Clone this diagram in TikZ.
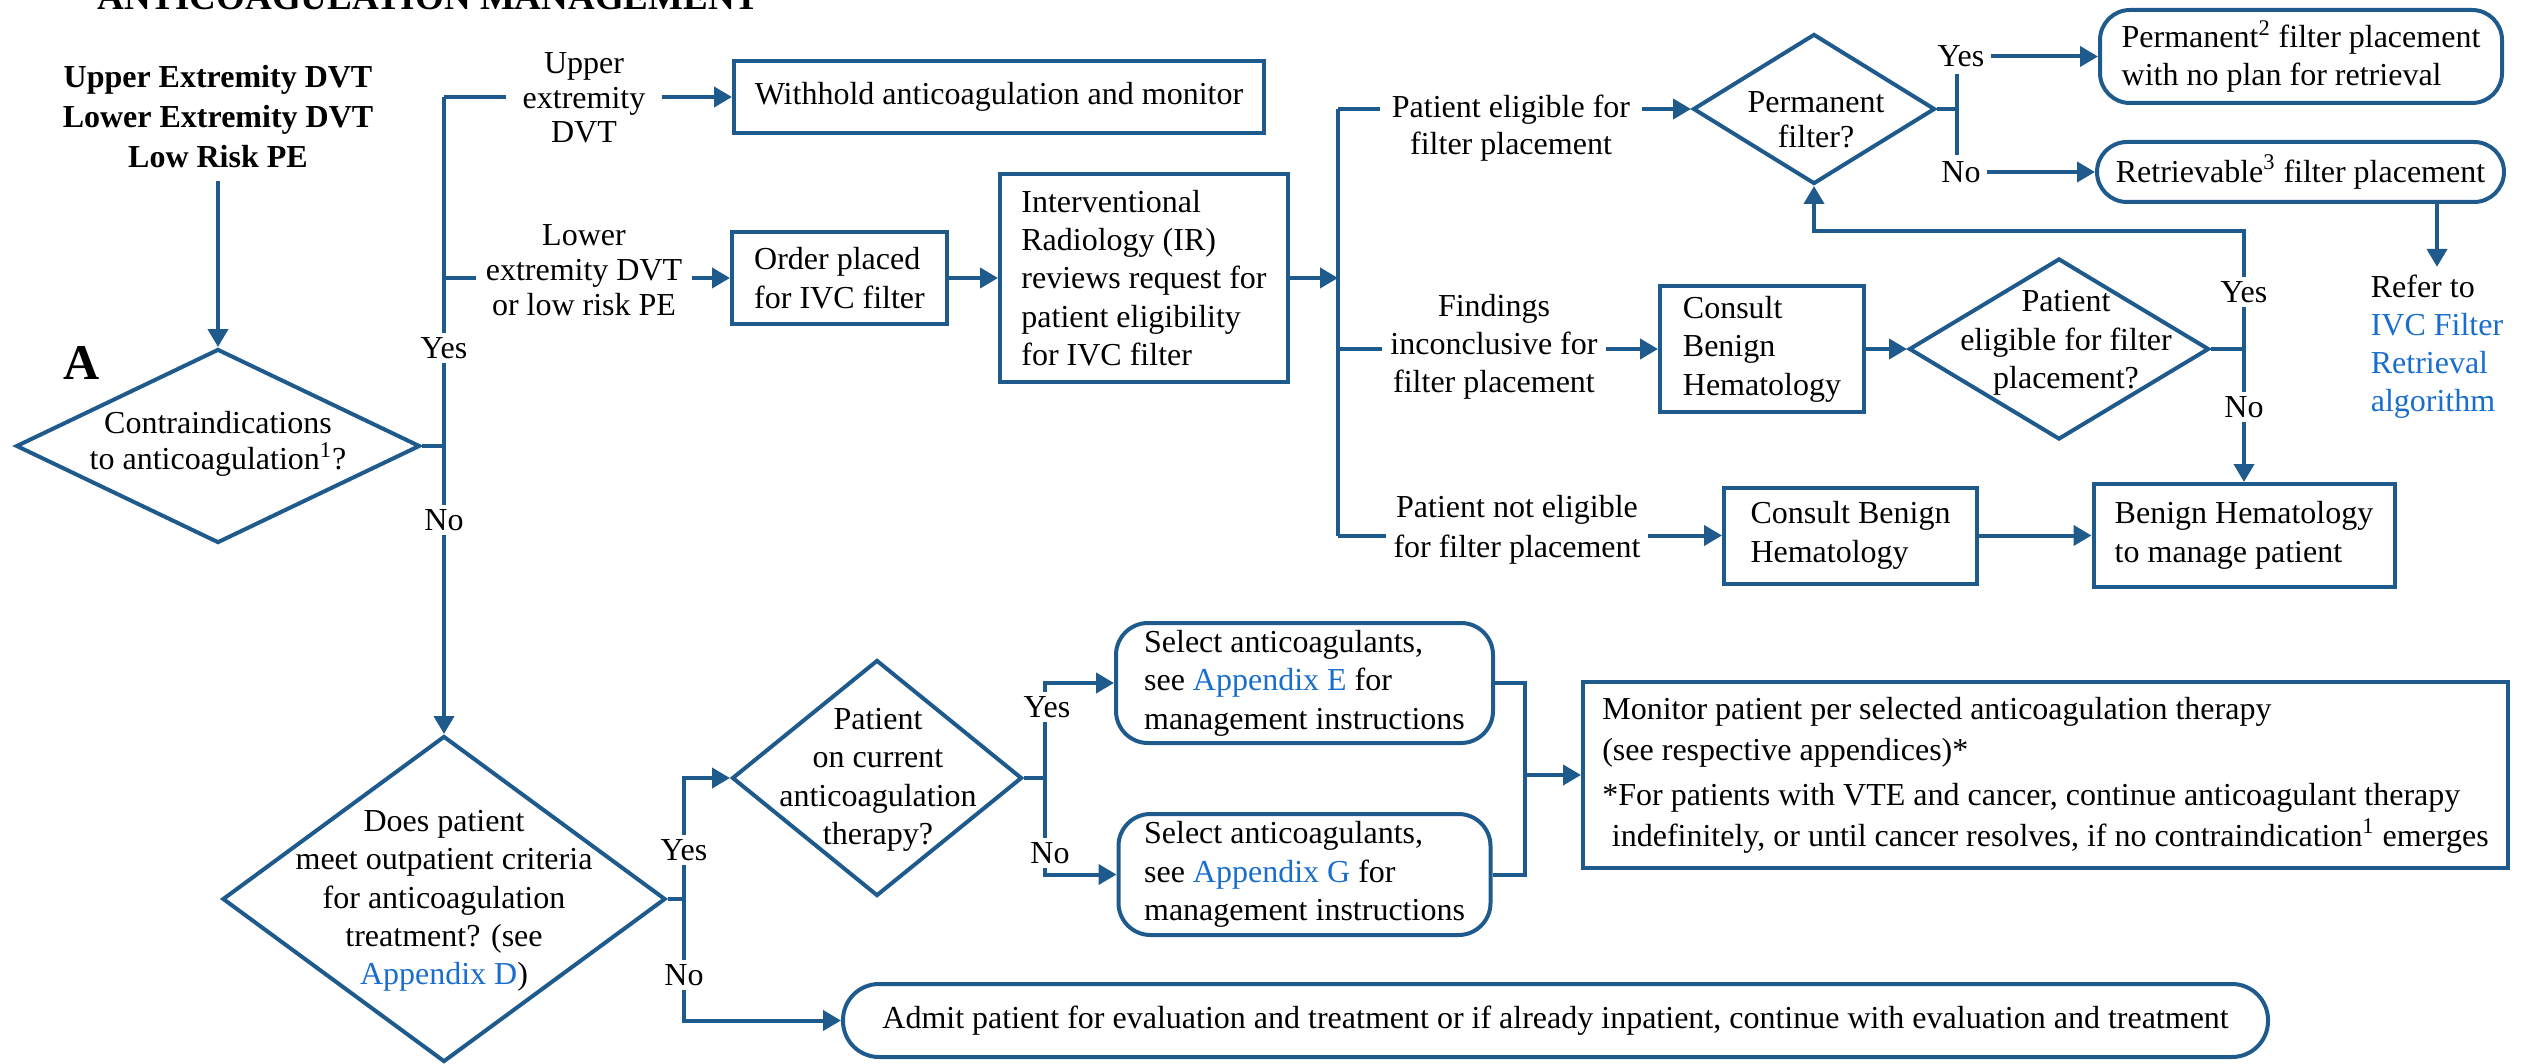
\documentclass[tikz,border=0pt]{standalone}
\usepackage{fontspec}
\setmainfont{Liberation Serif}
\usetikzlibrary{arrows.meta,shapes.geometric}
\definecolor{lb}{RGB}{31,90,140}
\definecolor{link}{RGB}{25,110,205}
\newcommand\myfs{\fontsize{16pt}{19.2pt}\selectfont}
\begin{document}
\begin{tikzpicture}[x=0.5pt,y=-0.5pt,
  line/.style={draw=lb,line width=2pt},
  arr/.style={line,-{Triangle[length=9pt,width=10pt]}},
  box/.style={draw=lb,line width=2pt,inner sep=0pt,align=left,font=\myfs},
  rbox/.style={box,rounded corners=15pt},
  dia/.style={diamond,draw=lb,line width=2pt,inner sep=0pt},
  txt/.style={font=\myfs,align=center,inner sep=0pt},
  lab/.style={font=\myfs,fill=white,inner sep=2pt},
]
\useasboundingbox (0,0) rectangle (2532,1064);
\clip (0,0) rectangle (2532,1064);

\node[anchor=base west,font=\fontsize{18.5pt}{22pt}\selectfont\bfseries,inner sep=0pt] (title) at (97,10) {ANTICOAGULATION MANAGEMENT};

\node[txt,inner sep=6pt,font=\fontsize{16pt}{20pt}\selectfont\bfseries] (start) at (218,117) {Upper Extremity DVT\\Lower Extremity DVT\\Low Risk PE};
\node[font=\fontsize{25pt}{30pt}\selectfont\bfseries,inner sep=0pt] (A) at (82,363) {A};

\node[dia,minimum width=202pt,minimum height=97pt] (d1) at (218,446) {};
\node[txt,font=\fontsize{16pt}{18pt}\selectfont] (d1t) at (218,444) {Contraindications\\to anticoagulation\textsuperscript{1}?};
\draw[arr] (start.south) -- (d1.north);

\node[dia,minimum width=221.5pt,minimum height=163pt] (d2) at (444,899) {};
\node[txt] (d2t) at (444,901) {Does patient\\meet outpatient criteria\\for anticoagulation\\treatment? (see\\\textcolor{link}{Appendix D})};

\coordinate (j1) at (444,446);
\coordinate (cu) at (444,97);
\coordinate (cl) at (444,278);
\draw[line] (d1.east) -- (j1);
\draw[arr] (cu) -- (d2.north);
\node[lab] (yes1) at (444,348) {Yes};
\node[lab] (no1) at (444,520) {No};

% upper branch
\node[txt,inner xsep=8pt,font=\fontsize{16pt}{17.3pt}\selectfont] (lup) at (584,98) {Upper\\extremity\\DVT};
\draw[line] (cu) -- (lup.west |- cu);
\node[box,minimum width=265pt,minimum height=36pt,align=center] (withhold) at (999,97) {Withhold anticoagulation and monitor};
\draw[arr] (lup.east |- cu) -- (withhold.west);

% lower branch
\node[txt,inner xsep=4.5pt,font=\fontsize{16pt}{17.5pt}\selectfont] (llow) at (584,270) {Lower\\extremity DVT\\or low risk PE};
\draw[line] (cl) -- (llow.west |- cl);
\node[box,minimum width=107.5pt,minimum height=46pt] (order) at (839.5,278) {Order placed\\for IVC filter};
\draw[arr] (llow.east |- cl) -- (order.west);
\node[box,minimum width=144pt,minimum height=104pt] (ir) at (1144,278) {Interventional\\Radiology (IR)\\reviews request for\\patient eligibility\\for IVC filter};
\draw[arr] (order.east) -- (ir.west);

% bus 2
\coordinate (b2t) at (1338,109);
\coordinate (b2m) at (1338,349);
\coordinate (b2b) at (1338,535.5);
\draw[line] (b2t) -- (b2b);
\draw[arr] (ir.east) -- (ir.east -| b2m);

\node[txt,inner xsep=6pt,font=\fontsize{16pt}{18.5pt}\selectfont] (pe1) at (1511,128) {Patient eligible for\\filter placement};
\draw[line] (b2t) -- (b2t -| pe1.west);
\node[dia,minimum width=121pt,minimum height=75pt] (perm) at (1814,109) {};
\node[txt,font=\fontsize{16pt}{17.5pt}\selectfont] (permt) at (1816,120) {Permanent\\filter?};
\draw[arr] (pe1.east |- b2t) -- (perm.west);

\coordinate (j3) at (1957,109);
\draw[line] (perm.east) -- (j3);
\node[txt,inner sep=3pt] (yes3) at (1961,56.5) {Yes};
\node[txt,inner sep=3pt] (no3) at (1961,172) {No};
\draw[line] (yes3.south -| j3) -- (no3.north -| j3);
\node[rbox,minimum width=201pt,minimum height=46.5pt] (permbox) at (2301,56.5) {Permanent\textsuperscript{2} filter placement\\with no plan for retrieval};
\draw[arr] (yes3.east) -- (permbox.west);
\node[rbox,minimum width=203.5pt,minimum height=30pt,align=center] (retbox) at (2300.5,172) {Retrievable\textsuperscript{3} filter placement};
\draw[arr] (no3.east) -- (retbox.west);

\node[txt,align=left,inner sep=4pt,font=\fontsize{16pt}{19pt}\selectfont] (refer) at (2437,347) {Refer to\\\textcolor{link}{IVC Filter}\\\textcolor{link}{Retrieval}\\\textcolor{link}{algorithm}};
\draw[arr] (retbox.south -| refer.north) -- (refer.north);

% findings
\node[txt,inner xsep=4pt,font=\fontsize{16pt}{19pt}\selectfont] (find) at (1494,347) {Findings\\inconclusive for\\filter placement};
\draw[line] (b2m) -- (b2m -| find.west);
\node[box,minimum width=102pt,minimum height=63pt] (cons1) at (1762,349) {Consult\\Benign\\Hematology};
\draw[arr] (find.east |- b2m) -- (cons1.west);
\node[dia,minimum width=150pt,minimum height=90.5pt] (elig) at (2059,349) {};
\node[txt] (eligt) at (2066,343) {Patient\\eligible for filter\\placement?};
\draw[arr] (cons1.east) -- (elig.west);
\coordinate (j4) at (2244,349);
\coordinate (j4t) at (2244,231);
\draw[line] (elig.east) -- (j4);
\draw[arr] (j4) -- (j4t) -| (perm.south);
\node[box,minimum width=150.5pt,minimum height=51.5pt] (benign) at (2244,535.5) {Benign Hematology\\to manage patient};
\draw[arr] (j4) -- (benign.north);
\node[lab] (yes4) at (2244,292) {Yes};
\node[lab] (no4) at (2244,407) {No};

% not eligible
\node[txt,inner xsep=3.5pt,font=\fontsize{16pt}{20pt}\selectfont] (pne) at (1517,530) {Patient not eligible\\for filter placement};
\draw[line] (b2b) -- (b2b -| pne.west);
\node[box,minimum width=126.5pt,minimum height=48pt] (cons2) at (1850.5,535.5) {Consult Benign\\Hematology};
\draw[arr] (pne.east |- b2b) -- (cons2.west);
\draw[arr] (cons2.east) -- (benign.west);

% bottom part
\coordinate (j5) at (684,899);
\draw[line] (d2.east) -- (j5);
\node[dia,minimum width=145pt,minimum height=118pt] (d3) at (877,778) {};
\node[txt] (d3t) at (878,780) {Patient\\on current\\anticoagulation\\therapy?};
\node[rbox,rounded corners=18pt,minimum width=712.5pt,minimum height=36.5pt,align=center] (admit) at (1555.5,1020.5) {Admit patient for evaluation and treatment or if already inpatient, continue with evaluation and treatment};
\draw[arr] (j5) |- (d3.west);
\draw[arr] (j5) |- (admit.west);
\node[lab] (yes5) at (684,850) {Yes};
\node[lab] (no5) at (684,975) {No};

\coordinate (j6) at (1045,778);
\draw[line] (d3.east) -- (j6);
\node[rbox,rounded corners=16pt,minimum width=188.5pt,minimum height=60pt] (sele) at (1304.5,683) {Select anticoagulants,\\see \textcolor{link}{Appendix E} for\\management instructions};
\node[rbox,rounded corners=16pt,minimum width=186pt,minimum height=60.5pt] (selg) at (1304.5,874.5) {Select anticoagulants,\\see \textcolor{link}{Appendix G} for\\management instructions};
\draw[arr] (j6) |- (sele.west);
\draw[arr] (j6) |- (selg.west);
\node[lab] (yes6) at (1047,707) {Yes};
\node[lab] (no6) at (1050,853) {No};

\coordinate (j7) at (1525,775);
\node[box,minimum width=462.5pt,minimum height=93pt,font=\fontsize{16pt}{20.5pt}\selectfont] (mon) at (2045.5,775) {Monitor patient per selected anticoagulation therapy\\(see respective appendices)*\\[2pt]*For patients with VTE and cancer, continue anticoagulant therapy\\\hspace*{0.3em}indefinitely, or until cancer resolves, if no contraindication\textsuperscript{1} emerges};
\draw[line] (sele.east) -| (j7);
\draw[line] (selg.east) -| (j7);
\draw[arr] (j7) -- (mon.west);
\end{tikzpicture}
\end{document}
